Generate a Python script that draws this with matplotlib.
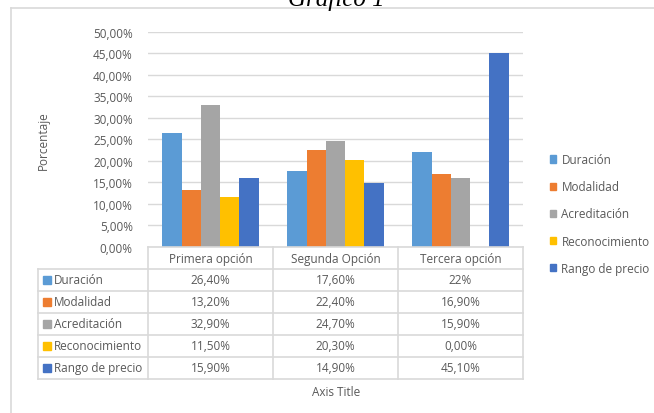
import numpy as np
import matplotlib.pyplot as plt
from matplotlib.patches import Rectangle
from matplotlib.lines import Line2D

categories = ["Primera opción", "Segunda Opción", "Tercera opción"]
series = ["Duración", "Modalidad", "Acreditación", "Reconocimiento", "Rango de precio"]
duracion = [26.4, 17.6, 22.0]
modalidad = [13.2, 22.4, 16.9]
acreditacion = [32.9, 24.7, 15.9]
reconocimiento = [11.5, 20.3, 0.0]
rango = [15.9, 14.9, 45.1]
table_text = [
    ["26,40%", "17,60%", "22%"],
    ["13,20%", "22,40%", "16,90%"],
    ["32,90%", "24,70%", "15,90%"],
    ["11,50%", "20,30%", "0,00%"],
    ["15,90%", "14,90%", "45,10%"],
]
yticks = np.arange(0, 55, 5)
colors = ["#5B9BD5", "#ED7D31", "#A5A5A5", "#FFC000", "#4472C4"]

values = [duracion, modalidad, acreditacion, reconocimiento, rango]

plt.rcParams['font.family'] = ['Open Sans', 'DejaVu Sans']
txt = "#595959"
grid = "#D9D9D9"
fs = 8.5

W, H = 654, 414
fig = plt.figure(figsize=(W / 100, H / 100), dpi=100)

def fr(x0, y0, x1, y1):
    # pixel box -> figure fraction
    return [x0 / W, 1 - y1 / H, (x1 - x0) / W, (y1 - y0) / H]

# outer chart frame and title
fig.add_artist(Line2D([11 / W, 1], [1 - 9 / H] * 2, color=grid, lw=1.2))
fig.add_artist(Line2D([11 / W] * 2, [0, 1 - 9 / H], color=grid, lw=1.2))
fig.text(336 / W, 1 - 6 / H, "Gráfico 1", family="Liberation Serif", style="italic",
         fontsize=18, ha="center", va="baseline", color="black")

# bar plot
ax = fig.add_axes(fr(148, 32.5, 523, 248))
x = np.arange(len(categories))
bw = 0.154
for i, (name, vals) in enumerate(zip(series, values)):
    ax.bar(x + (i - 2) * bw, vals, bw, color=colors[i], label=name, zorder=3)
ax.set_xlim(-0.5, 2.5)
ax.set_ylim(0, 50)
ax.set_yticks(yticks)
ax.set_yticklabels([f"{v:.2f}%".replace(".", ",") for v in yticks])
ax.set_xticks([])
ax.tick_params(axis="y", length=0, labelsize=fs, labelcolor=txt, pad=11)
ax.grid(axis="y", color=grid, lw=1, zorder=0)
for s in ax.spines.values():
    s.set_visible(False)
ax.set_ylabel("Porcentaje", fontsize=fs, color=txt, labelpad=31)

# data table under the plot, sharing category columns
head_w = 110 / 125
tx = fig.add_axes(fr(38, 248, 523, 380))
tx.set_xlim(-0.5 - head_w, 2.5)
tx.set_ylim(6, 0)
tx.axis("off")
lk = dict(color=grid, lw=1.2, clip_on=False)
tx.plot([-0.5, 2.5], [0, 0], **lk)
for r in range(1, 7):
    tx.plot([-0.5 - head_w, 2.5], [r, r], **lk)
for c in np.arange(-0.5, 3.0, 1.0):
    tx.plot([c, c], [0, 6], **lk)
tx.plot([-0.5 - head_w] * 2, [1, 6], **lk)
for j, cat in enumerate(categories):
    tx.text(j, 0.5, cat, ha="center", va="center", fontsize=fs, color=txt)
for i, name in enumerate(series):
    tx.add_patch(Rectangle((-0.5 - head_w + 0.04, i + 1.5 - 0.17), 0.064, 0.34,
                           color=colors[i], clip_on=False))
    tx.text(-0.5 - head_w + 0.13, i + 1.5, name, ha="left", va="center",
            fontsize=fs, color=txt)
    for j in range(len(categories)):
        tx.text(j, i + 1.5, table_text[i][j], ha="center", va="center",
                fontsize=fs, color=txt)

fig.text(336 / W, 1 - 393 / H, "Axis Title", ha="center", va="center",
         fontsize=fs, color=txt)

# legend
handles = [Rectangle((0, 0), 1, 1, color=c) for c in colors]
fig.legend(handles, series, loc="center left", bbox_to_anchor=(539 / W, 1 - 215 / H),
           frameon=False, fontsize=fs, labelcolor=txt, handlelength=0.55,
           handleheight=0.55, handletextpad=0.45, labelspacing=1.2)

fig.savefig("out.png", dpi=100)
